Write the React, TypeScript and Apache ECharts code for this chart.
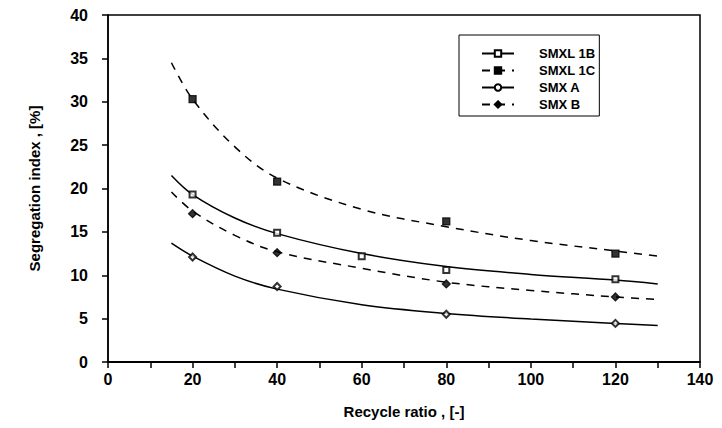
import React, { useEffect, useRef } from "react";
import * as echarts from "echarts";

// Fitted-curve sample x positions
const curveX = [15, 20, 30, 40, 60, 80, 100, 120, 130];
// Curve values read at curveX
const curveSMXL1B = [21.5, 19.3, 16.6, 14.8, 12.5, 11.0, 10.1, 9.45, 9.0];
const curveSMXL1C = [34.5, 30.3, 24.8, 21.2, 17.6, 15.6, 14.0, 12.8, 12.2];
const curveSMXA = [13.7, 12.2, 9.9, 8.4, 6.6, 5.6, 4.95, 4.45, 4.2];
const curveSMXB = [19.6, 17.4, 14.6, 12.7, 10.8, 9.2, 8.25, 7.5, 7.2];

// Measured points
const ptsX1B = [20, 40, 60, 80, 120];
const pts1B = [19.3, 14.9, 12.2, 10.6, 9.55];
const ptsX1C = [20, 40, 80, 120];
const pts1C = [30.3, 20.8, 16.2, 12.5];
const ptsXA = [20, 40, 80, 120];
const ptsA = [12.1, 8.7, 5.5, 4.45];
const ptsXB = [20, 40, 80, 120];
const ptsB = [17.1, 12.6, 9.0, 7.5];

const seriesNames = ["SMXL 1B", "SMXL 1C", "SMX A", "SMX B"];
const xTicks = [0, 20, 40, 60, 80, 100, 120, 140];

const FONT = "Liberation Sans";

function zip(xs: number[], ys: number[]) {
  return xs.map((x, i) => [x, ys[i]]);
}

export default function App() {
  const ref = useRef<HTMLDivElement>(null);
  useEffect(() => {
    if (!ref.current) return;
    const chart = echarts.init(ref.current, null, { renderer: "svg" });
    const curves = [curveSMXL1B, curveSMXL1C, curveSMXA, curveSMXB];
    const points = [
      zip(ptsX1B, pts1B),
      zip(ptsX1C, pts1C),
      zip(ptsXA, ptsA),
      zip(ptsXB, ptsB),
    ];
    const symbols = ["emptyRect", "rect", "emptyCircle", "diamond"];
    const ptSymbols = ["emptyRect", "rect", "emptyDiamond", "diamond"];
    const sizes = [6, 7, 5, 8];
    const ptSizes = [6, 7, 7, 8];
    const dashed = [false, true, false, true];
    const series: any[] = [];
    curves.forEach((c, i) => {
      series.push({
        name: seriesNames[i],
        type: "line",
        data: zip(curveX, c),
        smooth: 0.35,
        showSymbol: false,
        symbol: symbols[i],
        symbolSize: sizes[i],
        itemStyle: { color: "#000", borderColor: "#000", borderWidth: 1.2 },
        lineStyle: {
          color: "#000",
          width: 1.5,
          type: dashed[i] ? [8, 7] : "solid",
        },
        z: 2,
      });
    });
    points.forEach((p, i) => {
      series.push({
        name: seriesNames[i] + " data",
        type: "scatter",
        data: p,
        symbol: ptSymbols[i],
        symbolSize: ptSizes[i],
        itemStyle: { color: "#000", borderColor: "#000", borderWidth: 1.3 },
        z: 3,
      });
    });

    chart.setOption({
      animation: false,
      backgroundColor: "#fff",
      grid: {
        left: 108,
        right: 22,
        top: 15,
        bottom: 66,
        show: true,
        borderColor: "#000",
        borderWidth: 1.5,
      },
      legend: {
        data: seriesNames,
        orient: "vertical",
        left: 459,
        top: 35,
        itemWidth: 32,
        itemHeight: 8,
        itemGap: 4,
        padding: [12, 4, 5, 22],
        borderColor: "#000",
        borderWidth: 1,
        backgroundColor: "#fff",
        textStyle: {
          fontFamily: FONT,
          fontWeight: "bold",
          fontSize: 13,
          color: "#000",
          padding: [0, 0, 0, 20],
        },
      },
      xAxis: {
        type: "value",
        min: 0,
        max: 140,
        interval: 10,
        name: "Recycle ratio , [-]",
        nameLocation: "middle",
        nameGap: 42,
        nameTextStyle: {
          fontFamily: FONT,
          fontWeight: "bold",
          fontSize: 15,
          color: "#000",
        },
        axisLine: { lineStyle: { color: "#000", width: 2 } },
        axisTick: { show: true, length: 6, inside: false, lineStyle: { color: "#000", width: 1.5 } },
        axisLabel: {
          margin: 9,
          fontFamily: FONT,
          fontWeight: "bold",
          fontSize: 16,
          color: "#000",
          formatter: (v: number) => (xTicks.includes(v) ? String(v) : ""),
        },
        splitLine: { show: false },
      },
      yAxis: {
        type: "value",
        min: 0,
        max: 40,
        interval: 5,
        name: "Segregation index , [%]",
        nameLocation: "middle",
        nameGap: 66,
        nameTextStyle: {
          fontFamily: FONT,
          fontWeight: "bold",
          fontSize: 15,
          color: "#000",
        },
        axisLine: { lineStyle: { color: "#000", width: 1.5 } },
        axisTick: { show: true, length: 6, lineStyle: { color: "#000", width: 1.5 } },
        axisLabel: {
          margin: 20,
          fontFamily: FONT,
          fontWeight: "bold",
          fontSize: 16,
          color: "#000",
        },
        splitLine: { show: false },
      },
      series,
    });
    return () => chart.dispose();
  }, []);
  return <div ref={ref} style={{ width: 722, height: 428, margin: -8 }} />;
}
